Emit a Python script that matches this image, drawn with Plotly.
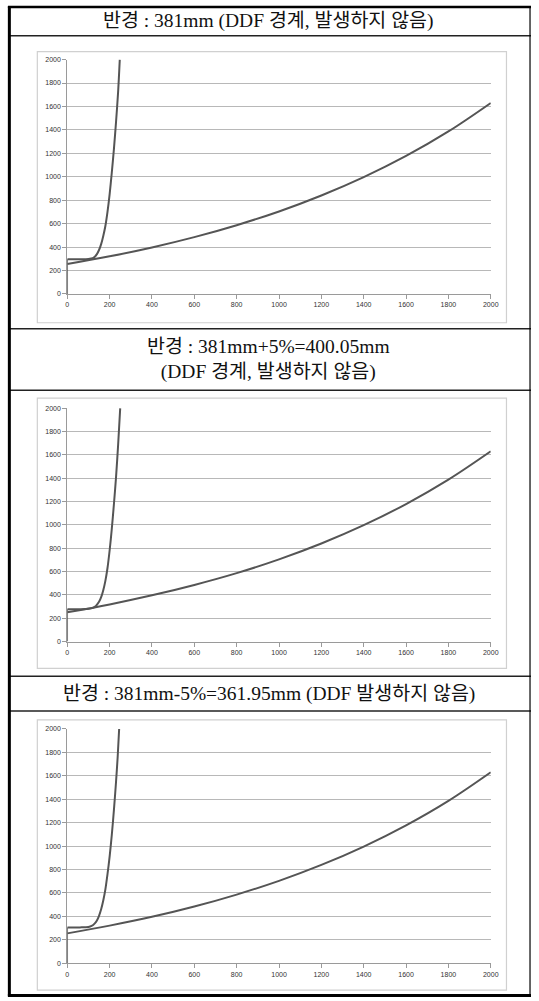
import plotly.graph_objects as go

W, H = 539, 1001

# Panel titles
titles = [
    "반경 : 381mm (DDF 경계, 발생하지 않음)",
    "반경 : 381mm+5%=400.05mm<br>(DDF 경계, 발생하지 않음)",
    "반경 : 381mm-5%=361.95mm (DDF 발생하지 않음)",
]

# Tick values shared by both axes
ticks = [0, 200, 400, 600, 800, 1000, 1200, 1400, 1600, 1800, 2000]

# Slow-growing curve (same x samples in every panel)
slow_x = [0, 200, 400, 600, 800, 1000, 1200, 1400, 1600, 1800, 2000]
slow_y1 = [255, 321, 397, 485, 587, 704, 840, 997, 1178, 1387, 1630]
slow_y2 = [250, 318, 396, 485, 586, 704, 840, 997, 1178, 1387, 1630]
slow_y3 = [255, 321, 396, 484, 586, 703, 839, 996, 1177, 1386, 1630]

# Steep curve: starting level at x = 0, then the rising branch
start_1 = 297
steep_x1 = [0, 60, 100, 120, 130, 140, 150, 160, 170, 180, 190, 200, 210, 220, 230, 240, 248]
steep_y1 = [297, 297, 299, 305, 318, 340, 375, 425, 495, 580, 700, 850, 1030, 1230, 1460, 1720, 2000]
start_2 = 276
steep_x2 = [0, 60, 100, 120, 135, 150, 160, 170, 180, 190, 200, 210, 220, 230, 240, 250]
steep_y2 = [276, 277, 280, 288, 305, 340, 380, 440, 520, 630, 780, 960, 1170, 1400, 1680, 2000]
start_3 = 306
steep_x3 = [0, 60, 100, 115, 130, 140, 150, 160, 170, 180, 190, 200, 210, 220, 230, 238, 245]
steep_y3 = [306, 306, 309, 318, 340, 365, 405, 460, 535, 630, 760, 910, 1090, 1300, 1540, 1760, 2000]

panels = [
    (slow_x, slow_y1, start_1, steep_x1, steep_y1),
    (slow_x, slow_y2, start_2, steep_x2, steep_y2),
    (slow_x, slow_y3, start_3, steep_x3, steep_y3),
]

# Pixel geometry (top-down) for each panel
plot_x0, plot_x1 = 66.5, 498
plot_rows = [(56, 292), (407, 642), (730, 966)]
box_rows = [(48, 321), (397, 669), (721, 993)]
title_rows = [(17,), (347, 369), (695,)]
dividers = [32, 327, 389, 677, 712]

def fx(px):
    return px / W

def fy(py):
    return 1 - py / H

LINE = "#555555"
fig = go.Figure()
layout = dict(
    width=W, height=H,
    margin=dict(l=0, r=0, t=0, b=0),
    paper_bgcolor="white", plot_bgcolor="white",
    showlegend=False,
)

for i, (sx, sy, s0, tx, ty) in enumerate(panels):
    n = "" if i == 0 else str(i + 1)
    ax = dict(xaxis="x" + n, yaxis="y" + n, hoverinfo="skip", mode="lines")
    fig.add_trace(go.Scatter(x=sx, y=sy, line=dict(color=LINE, width=2, shape="spline"), **ax))
    # vertical rise at x = 0 up to the starting level
    fig.add_trace(go.Scatter(x=[0, 0], y=[0, s0], line=dict(color=LINE, width=1.5), **ax))
    fig.add_trace(go.Scatter(x=tx, y=ty, line=dict(color=LINE, width=2, shape="spline", smoothing=0.8), **ax))
    top, bot = plot_rows[i]
    axfont = dict(family="Liberation Sans, Arial", size=7, color="#333333")
    layout["xaxis" + n] = dict(
        domain=[fx(plot_x0), fx(plot_x1)], anchor="y" + n, range=[0, 2000],
        tickvals=ticks, ticks="outside", ticklen=4, tickcolor="#9a9a9a",
        showline=True, linecolor="#9a9a9a", linewidth=1, showgrid=False,
        zeroline=False, tickfont=axfont, fixedrange=True,
    )
    layout["yaxis" + n] = dict(
        domain=[fy(bot), fy(top)], anchor="x" + n, range=[0, 2000],
        tickvals=ticks, ticks="outside", ticklen=4, tickcolor="#9a9a9a",
        showline=True, linecolor="#9a9a9a", linewidth=1,
        showgrid=True, gridcolor="#b8b8b8", gridwidth=1,
        zeroline=False, tickfont=axfont, fixedrange=True,
    )

fig.update_layout(**layout)

shapes = []
# Chart boxes
for (b0, b1) in box_rows:
    shapes.append(dict(type="rect", xref="paper", yref="paper",
                       x0=fx(36), x1=fx(514), y0=fy(b1), y1=fy(b0),
                       line=dict(color="#d0d0d0", width=1.2), layer="below"))
# Horizontal dividers
for d in dividers:
    shapes.append(dict(type="line", xref="paper", yref="paper",
                       x0=fx(7), x1=1, y0=fy(d), y1=fy(d),
                       line=dict(color="#222222", width=1.5)))
# Outer frame
shapes.append(dict(type="line", xref="paper", yref="paper", x0=fx(7.5), x1=fx(7.5), y0=fy(999), y1=fy(2.5),
                   line=dict(color="black", width=3)))
shapes.append(dict(type="line", xref="paper", yref="paper", x0=fx(6), x1=1, y0=fy(3), y1=fy(3),
                   line=dict(color="black", width=2.5)))
shapes.append(dict(type="line", xref="paper", yref="paper", x0=fx(6), x1=1, y0=fy(998.5), y1=fy(998.5),
                   line=dict(color="black", width=3)))
shapes.append(dict(type="line", xref="paper", yref="paper", x0=fx(538), x1=fx(538), y0=fy(999), y1=fy(3),
                   line=dict(color="black", width=1.2)))
fig.update_layout(shapes=shapes)

# Titles
tfont = dict(family="Liberation Serif, Times New Roman, Noto Sans CJK KR", size=19.5, color="#111111")
for i, t in enumerate(titles):
    rows = title_rows[i]
    yc = sum(rows) / len(rows)
    fig.add_annotation(text=t, xref="paper", yref="paper", x=fx(272), y=fy(yc),
                       showarrow=False, font=tfont, xanchor="center", yanchor="middle",
                       align="center")

fig.write_html("out.html")
